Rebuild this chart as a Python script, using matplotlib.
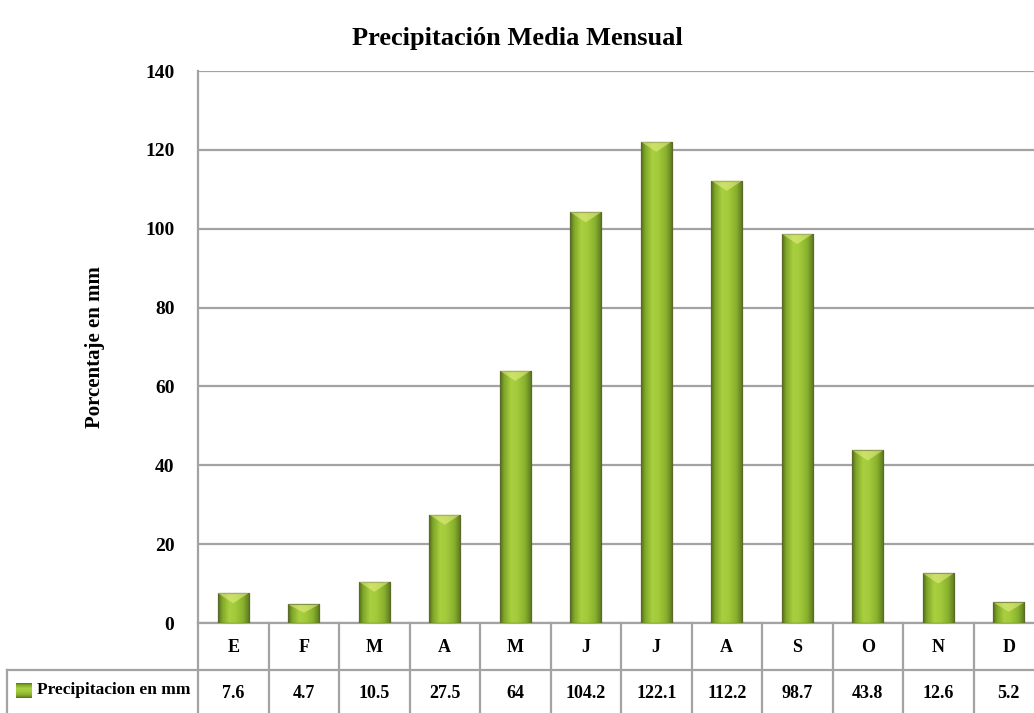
import numpy as np
import matplotlib.pyplot as plt
from matplotlib import transforms
from matplotlib.colors import LinearSegmentedColormap
from matplotlib.patches import Rectangle, Polygon

# Monthly mean precipitation (mm)
months = ['E', 'F', 'M', 'A', 'M', 'J', 'J', 'A', 'S', 'O', 'N', 'D']
precip = [7.6, 4.7, 10.5, 27.5, 64, 104.2, 122.1, 112.2, 98.7, 43.8, 12.6, 5.2]
series_name = 'Precipitacion en mm'

plt.rcParams['font.family'] = ['Liberation Serif', 'DejaVu Serif']
plt.rcParams['font.weight'] = 'bold'

W, H = 1034, 713
AX_L, AX_T, AX_B, AX_W = 198, 71, 623, 846
fig = plt.figure(figsize=(W / 100, H / 100), dpi=100)
ax = fig.add_axes([AX_L / W, 1 - AX_B / H, AX_W / W, (AX_B - AX_T) / H])
ax_h = AX_B - AX_T

ax.set_ylim(0, 140)
ax.set_yticks(range(0, 141, 20))
ax.set_xticks([])
ax.tick_params(axis='y', length=0, pad=17, labelsize=14)
for lab in ax.get_yticklabels():
    lab.set_fontweight('bold')
ax.yaxis.grid(True, color='#a3a3a3', lw=1.6)
ax.set_axisbelow(True)
for s in ['top', 'right', 'bottom']:
    ax.spines[s].set_visible(False)
ax.spines['left'].set_color('#a3a3a3')
ax.spines['left'].set_linewidth(1.6)

ax.set_ylabel('Porcentaje en mm', fontsize=15, fontweight='bold', labelpad=29)
fig.text(0.5, 1 - 39 / H, 'Precipitación Media Mensual', ha='center',
         va='center', fontsize=19, fontweight='bold')

# green cylinder-like shading across each bar
cmap = LinearSegmentedColormap.from_list('bar', [
    (0.0, '#55701a'), (0.12, '#7fa629'), (0.35, '#a9d03f'),
    (0.55, '#a2ca3a'), (0.8, '#88b02e'), (1.0, '#5a761c')])
grad = np.linspace(0, 1, 64).reshape(1, -1)
width = 0.44

for i, v in enumerate(precip):
    x0, x1 = i - width / 2, i + width / 2
    im = ax.imshow(grad, cmap=cmap, aspect='auto', extent=(x0, x1, 0, v),
                   zorder=3, interpolation='bicubic')
    rect = Rectangle((x0, 0), width, v, facecolor='none', edgecolor='#5b6a2a',
                     lw=0.9, zorder=4)
    ax.add_patch(rect)
    im.set_clip_path(rect)
    cap = min(2.6, v * 0.45)
    ax.add_patch(Polygon([(x0, v), (x1, v), (i, v - cap)], closed=True,
                         facecolor='#e8f08a', edgecolor='none', alpha=0.55,
                         zorder=5))
ax.set_xlim(-0.5, len(months) - 0.5)
ax.set_ylim(0, 140)

# data table under the axis
tr = transforms.blended_transform_factory(ax.transData, ax.transAxes)
row1 = -47 / ax_h
row2 = -100 / ax_h
line_kw = dict(color='#a3a3a3', lw=1.6, clip_on=False)
n = len(months)
ax.plot([-0.5, n - 0.5], [0, 0], transform=tr, **line_kw)
for k in range(n + 1):
    ax.plot([k - 0.5, k - 0.5], [0, row2], transform=tr, **line_kw)
for i in range(n):
    ax.text(i, -25 / ax_h, months[i], transform=tr, ha='center', va='center',
            fontsize=13, fontweight='bold')
    ax.text(i, -70 / ax_h, f'{precip[i]:g}', transform=tr, ha='center',
            va='center', fontsize=13, fontweight='bold')

fig.lines.append(plt.Line2D([7 / W, 1], [1 - 670 / H] * 2,
                            transform=fig.transFigure, color='#a3a3a3', lw=1.6))
fig.lines.append(plt.Line2D([7 / W] * 2, [1 - 670 / H, 0],
                            transform=fig.transFigure, color='#a3a3a3', lw=1.6))

# legend key
kax = fig.add_axes([16 / W, 1 - 698 / H, 16 / W, 15 / H])
kax.imshow(grad.T, cmap=cmap, aspect='auto', extent=(0, 1, 0, 1))
kax.set_axis_off()
fig.text(37 / W, 1 - 690 / H, series_name, ha='left', va='center',
         fontsize=12.5, fontweight='bold')

fig.savefig('out.png', dpi=100)
